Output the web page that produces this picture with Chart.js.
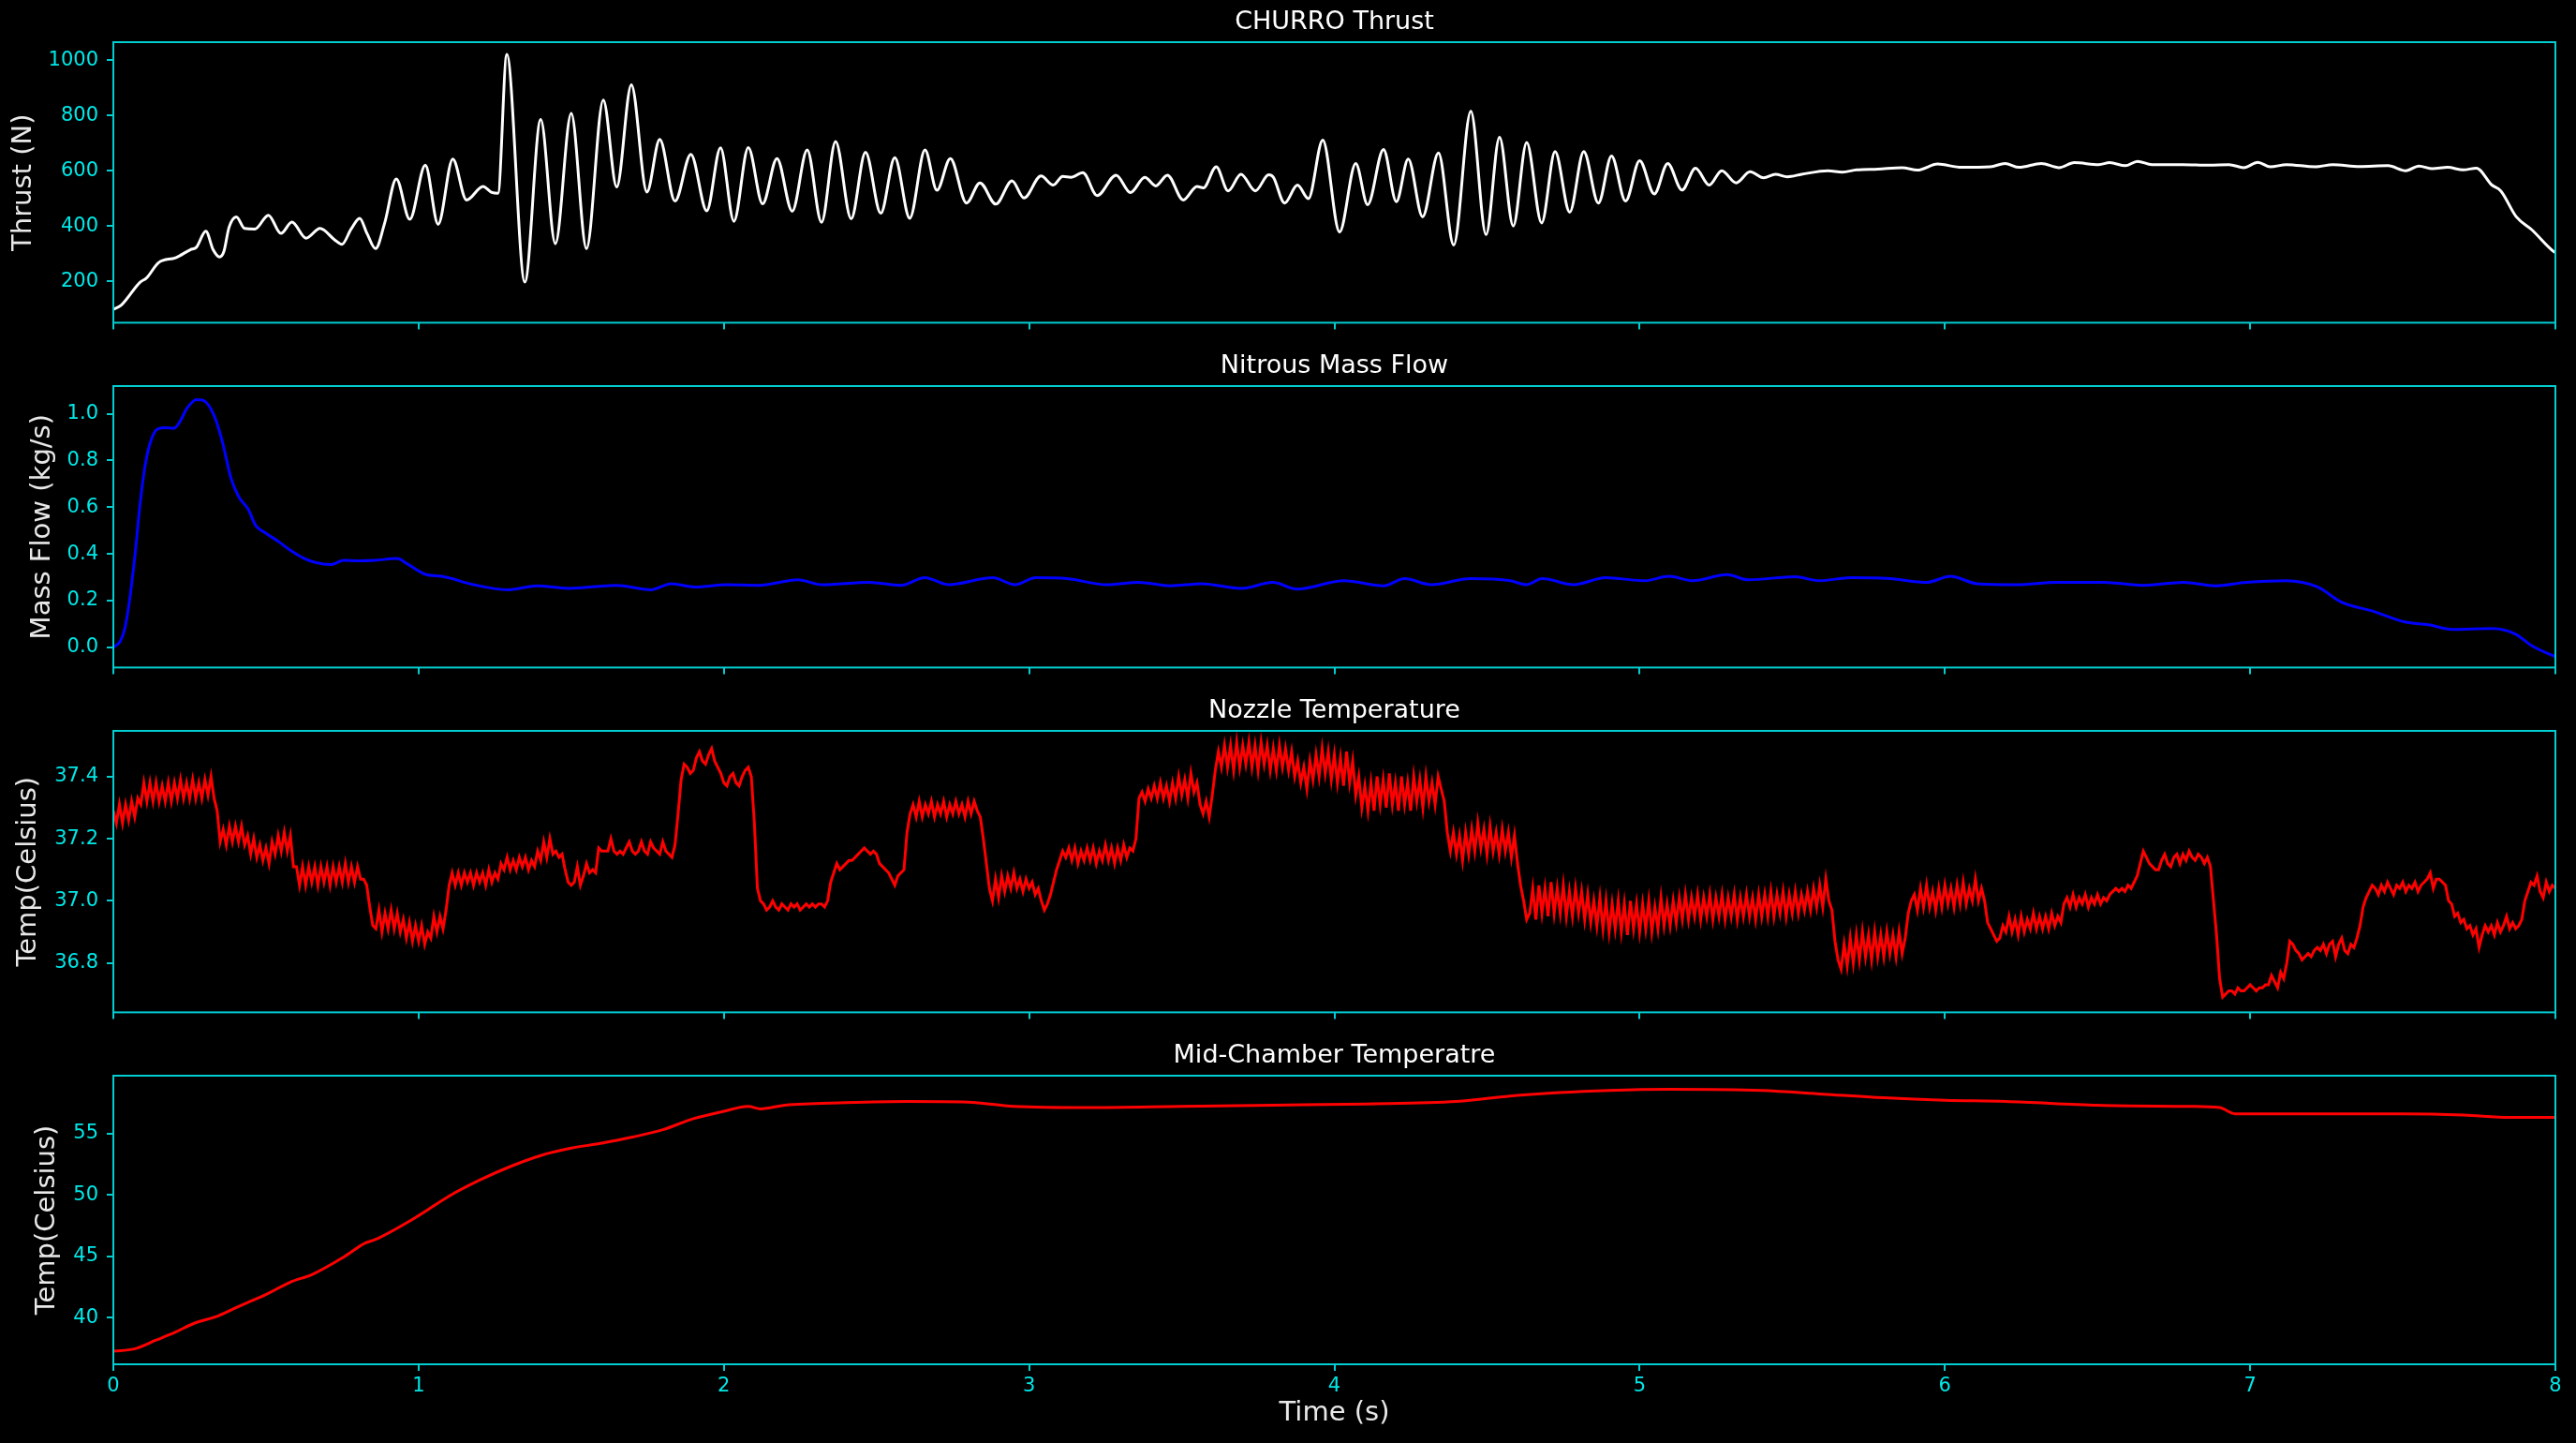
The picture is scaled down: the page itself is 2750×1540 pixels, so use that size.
<!DOCTYPE html>
<html><head><meta charset="utf-8">
<script src="https://cdn.jsdelivr.net/npm/chart.js@4.4.1/dist/chart.umd.min.js"></script>
<style>
html,body{margin:0;padding:0;background:#000;width:2750px;height:1540px;overflow:hidden}
canvas{position:absolute;left:0}
</style></head><body>
<canvas id="c1" width="2750" height="357" style="top:9px"></canvas>
<canvas id="c2" width="2750" height="358" style="top:376px"></canvas>
<canvas id="c3" width="2750" height="358" style="top:744px"></canvas>
<canvas id="c4" width="2750" height="428" style="top:1112px"></canvas>
<script>
// ---------- DATA ----------
const xTicks = [0,1,2,3,4,5,6,7,8];
const xTickLabels = ['0','1','2','3','4','5','6','7','8'];

const thrustTicks = [200,400,600,800,1000];
const thrustTickLabels = ['200','400','600','800','1000'];
const massTicks = [0,0.2,0.4,0.6,0.8,1.0];
const massTickLabels = ['0.0','0.2','0.4','0.6','0.8','1.0'];
const nozzleTicks = [36.8,37.0,37.2,37.4];
const nozzleTickLabels = ['36.8','37.0','37.2','37.4'];
const chamberTicks = [40,45,50,55];
const chamberTickLabels = ['40','45','50','55'];

const thrustT = [0,0.026,0.088,0.108,0.149,0.204,0.252,0.272,0.303,0.327,0.348,0.362,0.379,0.403,0.430,0.464,0.508,0.549,0.585,0.631,0.677,0.725,0.749,0.779,0.807,0.831,0.859,0.889,0.927,0.971,1.022,1.064,1.112,1.157,1.211,1.240,1.260,1.289,1.348,1.400,1.448,1.500,1.550,1.605,1.649,1.697,1.748,1.790,
1.840,1.892,1.944,1.989,2.033,2.080,2.127,2.174,2.224,2.273,2.320,2.366,2.417,2.464,2.514,2.560,2.609,2.659,2.698,2.742,2.795,2.839,2.891,2.944,2.983,3.039,3.079,3.110,3.137,3.176,3.223,3.285,3.332,3.379,3.415,3.453,3.505,3.550,3.571,3.613,3.652,3.694,3.741,3.785,3.800,3.837,3.879,3.915,3.962,4.017,4.070,4.109,4.161,4.203,4.242,4.289,4.341,4.391,4.447,4.497,4.541,4.586,4.630,4.679,4.723,4.771,4.817,4.865,4.908,4.954,5.000,5.048,5.092,5.139,5.183,5.228,5.269,5.316,5.362,5.406,5.445,5.484,5.531,5.617,5.664,5.711,5.781,5.860,5.910,5.976,6.055,6.149,6.197,6.243,6.316,6.374,6.424,6.504,6.540,6.591,6.631,6.678,6.779,6.866,6.931,6.979,7.025,7.066,7.119,7.213,7.271,7.358,7.452,7.510,7.553,7.597,7.647,7.698,7.741,7.792,7.821,7.872,7.922,7.995,8.0];
const thrustV = [99,115,198,212,269,286,315,324,382,315,289,308,396,434,392,390,440,374,415,357,392,351,335,390,429,374,319,412,571,425,621,407,643,495,544,522,519,1022,198,786,337,808,319,857,542,912,524,714,
491,660,456,684,418,685,481,645,454,676,414,707,427,668,447,648,429,676,530,645,484,557,480,564,502,582,549,580,577,594,511,585,522,577,546,585,495,544,539,615,528,588,528,586,577,484,549,500,712,379,627,478,678,489,643,434,665,332,816,370,722,401,703,412,670,451,670,484,654,491,637,517,627,531,610,549,601,557,597,575,588,579,588,601,596,604,607,612,603,625,613,615,627,613,627,612,630,623,630,619,635,623,623,621,623,612,631,615,623,615,623,616,619,601,618,608,613,604,610,549,528,434,388,308,305];

const massT = [0,0.022,0.038,0.053,0.071,0.089,0.107,0.125,0.145,0.171,0.199,0.217,0.242,0.273,0.294,0.329,0.355,0.386,0.411,0.442,0.467,0.498,0.544,0.580,0.621,0.662,0.713,0.754,0.805,0.856,0.930,0.960,1.025,1.076,1.180,1.294,1.388,1.491,1.647,1.761,1.828,1.906,2.010,2.113,2.243,2.321,2.476,2.580,2.658,2.736,2.881,2.954,3.021,3.125,3.254,3.358,3.462,3.566,3.695,3.799,3.877,4.032,4.162,4.230,4.317,4.447,4.577,4.629,4.681,4.784,4.888,5.018,5.096,5.173,5.287,5.355,5.510,5.588,5.692,5.821,5.941,6.018,6.106,6.236,6.366,6.521,6.651,6.781,6.885,6.988,7.118,7.221,7.299,7.403,7.507,7.585,7.662,7.792,7.870,7.922,7.990,8.0];
const massV = [0.0,0.024,0.082,0.20,0.396,0.631,0.80,0.892,0.935,0.94,0.938,0.964,1.025,1.061,1.058,0.996,0.892,0.722,0.644,0.591,0.52,0.49,0.45,0.415,0.383,0.363,0.354,0.372,0.37,0.372,0.38,0.36,0.311,0.304,0.268,0.246,0.263,0.252,0.265,0.246,0.272,0.258,0.268,0.265,0.289,0.268,0.278,0.265,0.298,0.268,0.298,0.268,0.298,0.294,0.268,0.278,0.263,0.272,0.252,0.278,0.249,0.285,0.263,0.294,0.268,0.294,0.285,0.268,0.294,0.268,0.298,0.285,0.304,0.285,0.311,0.289,0.302,0.285,0.298,0.294,0.278,0.304,0.272,0.268,0.278,0.278,0.265,0.278,0.263,0.278,0.285,0.258,0.193,0.154,0.108,0.096,0.076,0.08,0.056,0.007,-0.035,-0.04];

const nozzleStep = 0.01; // sample spacing of the nozzle log (s)
const nozzleV = [
37.29,37.25,37.31,37.25,37.31,37.26,37.32,37.27,37.33,37.31,37.38,37.32,37.38,37.32,37.38,37.32,37.37,37.32,37.38,37.32,
37.38,37.33,37.39,37.33,37.38,37.33,37.39,37.33,37.38,37.33,37.39,37.34,37.40,37.33,37.29,37.19,37.23,37.18,37.24,37.19,
37.24,37.19,37.24,37.18,37.21,37.15,37.20,37.14,37.18,37.13,37.17,37.12,37.19,37.15,37.21,37.16,37.22,37.16,37.21,37.11,
37.11,37.05,37.11,37.05,37.11,37.06,37.11,37.05,37.11,37.06,37.11,37.05,37.11,37.06,37.11,37.06,37.12,37.06,37.11,37.06,
37.11,37.07,37.07,37.05,36.98,36.92,36.91,36.97,36.90,36.96,36.91,36.97,36.91,36.96,36.90,36.94,36.88,36.93,36.87,36.92,
36.87,36.92,36.86,36.90,36.88,36.95,36.90,36.95,36.91,36.97,37.05,37.09,37.05,37.09,37.05,37.09,37.06,37.09,37.05,37.09,
37.06,37.09,37.05,37.10,37.06,37.09,37.07,37.12,37.10,37.14,37.10,37.13,37.10,37.14,37.11,37.14,37.10,37.13,37.11,37.16,
37.13,37.19,37.14,37.20,37.15,37.16,37.14,37.15,37.10,37.06,37.05,37.06,37.11,37.05,37.08,37.12,37.09,37.10,37.09,37.17,
37.16,37.16,37.16,37.20,37.16,37.15,37.16,37.15,37.17,37.19,37.16,37.15,37.16,37.19,37.16,37.15,37.19,37.17,37.16,37.15,
37.19,37.16,37.15,37.14,37.18,37.28,37.39,37.44,37.43,37.41,37.42,37.46,37.48,37.45,37.44,37.47,37.49,37.45,37.43,37.41,
37.38,37.37,37.40,37.41,37.38,37.37,37.40,37.42,37.43,37.40,37.25,37.04,37.00,36.99,36.97,36.98,37.00,36.98,36.97,36.99,
36.98,36.97,36.99,36.98,36.99,36.97,36.98,36.99,36.98,36.99,36.98,36.99,36.99,36.98,37.00,37.06,37.09,37.12,37.10,37.11,
37.12,37.13,37.13,37.14,37.15,37.16,37.17,37.16,37.15,37.16,37.15,37.12,37.11,37.10,37.09,37.07,37.05,37.08,37.09,37.10,
37.22,37.28,37.31,37.27,37.32,37.27,37.31,37.28,37.32,37.27,37.31,37.28,37.32,37.27,37.31,37.28,37.32,37.28,37.31,37.27,
37.32,37.28,37.32,37.29,37.27,37.20,37.12,37.04,37.00,37.07,37.01,37.08,37.03,37.08,37.04,37.09,37.04,37.07,37.03,37.07,
37.04,37.06,37.02,37.04,37.00,36.97,36.99,37.02,37.06,37.10,37.13,37.16,37.14,37.17,37.13,37.17,37.12,37.16,37.13,37.17,
37.13,37.17,37.12,37.16,37.13,37.18,37.13,37.17,37.12,37.17,37.13,37.18,37.14,37.17,37.16,37.20,37.33,37.35,37.32,37.36,
37.33,37.37,37.33,37.38,37.33,37.37,37.32,37.38,37.33,37.40,37.34,37.39,37.33,37.41,37.35,37.38,37.31,37.28,37.32,37.27,
37.34,37.42,37.48,37.43,37.50,37.43,37.50,37.42,37.51,37.43,37.50,37.44,37.51,37.43,37.50,37.42,37.51,37.44,37.50,37.42,
37.49,37.42,37.50,37.43,37.49,37.42,37.48,37.40,37.45,37.38,37.43,37.36,37.45,37.39,37.47,37.40,37.49,37.41,37.48,37.39,
37.47,37.38,37.46,37.37,37.48,37.38,37.45,37.34,37.40,37.30,37.37,37.29,37.38,37.29,37.40,37.31,37.39,37.30,37.41,37.31,
37.38,37.29,37.40,37.31,37.38,37.29,37.40,37.32,37.39,37.30,37.40,37.32,37.38,37.31,37.40,37.36,37.32,37.22,37.16,37.22,
37.15,37.21,37.13,37.22,37.15,37.23,37.16,37.25,37.17,37.23,37.15,37.24,37.16,37.22,37.15,37.23,37.16,37.22,37.14,37.21,
37.12,37.05,37.00,36.94,36.96,37.04,36.94,37.05,36.96,37.04,36.95,37.06,36.96,37.04,36.96,37.05,36.95,37.03,36.95,37.04,
36.96,37.03,36.94,37.02,36.93,37.00,36.92,37.01,36.91,37.00,36.90,36.99,36.91,37.00,36.90,36.99,36.89,37.00,36.91,36.99,
36.90,36.99,36.91,37.00,36.90,36.98,36.91,37.01,36.92,36.99,36.92,37.00,36.93,37.01,36.94,37.02,36.94,37.01,36.95,37.02,
36.94,37.01,36.95,37.02,36.94,37.01,36.95,37.02,36.94,37.01,36.95,37.02,36.94,37.01,36.95,37.02,36.95,37.01,36.94,37.02,
36.95,37.02,36.95,37.03,36.95,37.02,36.96,37.03,36.95,37.02,36.96,37.03,36.96,37.02,36.97,37.03,36.97,37.04,36.98,37.05,
36.98,37.07,37.00,36.97,36.87,36.81,36.78,36.86,36.79,36.88,36.80,36.89,36.81,36.90,36.82,36.89,36.81,36.90,36.82,36.89,
36.82,36.90,36.83,36.89,36.82,36.90,36.83,36.88,36.96,37.00,37.02,36.97,37.04,36.98,37.05,36.98,37.03,36.97,37.04,36.98,
37.05,36.99,37.04,36.98,37.05,36.99,37.06,36.99,37.04,37.00,37.07,37.00,37.04,37.00,36.93,36.91,36.89,36.87,36.88,36.92,
36.90,36.95,36.90,36.94,36.89,36.95,36.90,36.94,36.91,36.96,36.91,36.95,36.91,36.95,36.91,36.96,36.92,36.95,36.93,36.99,
37.01,36.98,37.02,36.98,37.01,36.99,37.02,36.98,37.01,36.99,37.02,36.99,37.01,37.00,37.02,37.03,37.04,37.03,37.04,37.03,
37.05,37.04,37.06,37.08,37.12,37.16,37.14,37.12,37.11,37.10,37.10,37.13,37.15,37.12,37.11,37.14,37.15,37.12,37.15,37.13,
37.16,37.14,37.13,37.15,37.14,37.12,37.14,37.11,37.00,36.89,36.75,36.69,36.70,36.71,36.71,36.70,36.72,36.71,36.71,36.72,
36.73,36.72,36.71,36.72,36.72,36.73,36.73,36.76,36.74,36.72,36.77,36.75,36.80,36.87,36.86,36.84,36.83,36.81,36.82,36.83,
36.82,36.84,36.85,36.84,36.86,36.83,36.86,36.87,36.82,36.86,36.88,36.84,36.83,36.86,36.85,36.88,36.92,36.98,37.01,37.03,
37.05,37.04,37.02,37.05,37.03,37.06,37.04,37.02,37.05,37.04,37.06,37.03,37.05,37.04,37.06,37.03,37.05,37.06,37.07,37.09,
37.04,37.07,37.07,37.06,37.05,37.00,36.99,36.95,36.96,36.93,36.94,36.91,36.92,36.89,36.91,36.85,36.89,36.92,36.90,36.92,
36.89,36.93,36.90,36.92,36.95,36.91,36.93,36.91,36.92,36.94,37.00,37.03,37.06,37.05,37.08,37.03,37.01,37.06,37.03,37.05,
37.04];
const nozzleT = nozzleV.map((_, i) => +(i * nozzleStep).toFixed(2));

const chamberT = [0,0.068,0.140,0.202,0.263,0.345,0.427,0.498,0.580,0.652,0.754,0.825,0.856,1.0,1.1,1.2,1.3,1.4,1.5,1.6,1.7,1.8,1.9,2.0,2.08,2.12,2.2,2.4,2.6,2.8,2.95,3.2,3.5,3.8,4.1,4.4,4.6,4.9,5.1,5.4,5.6,5.8,6.0,6.2,6.5,6.8,6.9,6.95,7.2,7.5,7.7,7.85,8.0];
const chamberV = [37.27,37.45,38.17,38.80,39.52,40.16,41.10,41.86,42.89,43.52,44.92,46.07,46.33,48.3,49.9,51.2,52.3,53.2,53.8,54.2,54.7,55.3,56.2,56.8,57.2,57.0,57.3,57.5,57.6,57.55,57.2,57.1,57.2,57.3,57.4,57.6,58.1,58.5,58.6,58.5,58.2,57.9,57.7,57.6,57.3,57.2,57.1,56.6,56.6,56.6,56.5,56.3,56.3];

// ---------- STYLE ----------
const FONT = "'DejaVu Sans', 'Noto Sans', sans-serif";
Chart.defaults.font.family = FONT;
const SPINE = '#00CED1';
const TICKTXT = '#00e8e8';

const spines = {
  id: 'spines',
  afterDraw(chart) {
    const {ctx, chartArea: a} = chart;
    ctx.save();
    ctx.strokeStyle = SPINE;
    ctx.lineWidth = 2;
    ctx.strokeRect(a.left, a.top, a.right - a.left, a.bottom - a.top);
    ctx.restore();
  }
};

function makeChart(cfg) {
  const data = cfg.t.map((t, i) => ({x: t, y: cfg.v[i]}));
  return new Chart(document.getElementById(cfg.id), {
    type: 'line',
    data: { datasets: [{
      data,
      borderColor: cfg.color,
      borderWidth: 3,
      pointRadius: 0,
      fill: false,
      tension: cfg.smooth ? 0.4 : 0,
      cubicInterpolationMode: cfg.smooth ? 'monotone' : 'default'
    }]},
    options: {
      responsive: false,
      animation: false,
      devicePixelRatio: 1,
      events: [],
      layout: { padding: { top: 0, left: cfg.padLeft, right: 22, bottom: cfg.padBottom } },
      plugins: {
        legend: { display: false },
        tooltip: { enabled: false },
        title: {
          display: true, text: cfg.title, color: '#ffffff', fullSize: false,
          font: { size: 27, weight: 'normal', family: FONT, lineHeight: 30/27 },
          padding: { top: 0, bottom: 6 }
        }
      },
      scales: {
        x: {
          type: 'linear', min: 0, max: 8,
          afterBuildTicks: s => { s.ticks = xTicks.map(v => ({value: v})); },
          afterFit: s => { s.height = cfg.xHeight; },
          grid: { display: true, drawOnChartArea: false, drawTicks: true, tickLength: 7, color: SPINE, lineWidth: 2 },
          border: { display: false },
          ticks: {
            display: cfg.xLabels, color: TICKTXT, padding: 4,
            font: { size: 21, family: FONT }, maxRotation: 0, autoSkip: false,
            callback: (v, i) => xTickLabels[i]
          },
          title: {
            display: cfg.xLabels, text: 'Time (s)', color: '#e8e8e8',
            font: { size: 29, family: FONT, lineHeight: 1.1 }, padding: 0
          }
        },
        y: {
          type: 'linear', min: cfg.min, max: cfg.max,
          afterBuildTicks: s => { s.ticks = cfg.ticks.map(v => ({value: v})); },
          afterFit: s => { s.width = 121 - cfg.padLeft; },
          grid: { display: true, drawOnChartArea: false, drawTicks: true, tickLength: 7, color: SPINE, lineWidth: 2 },
          border: { display: false },
          ticks: {
            color: TICKTXT, padding: 9, autoSkip: false,
            font: { size: 21, family: FONT },
            callback: (v, i) => cfg.labels[i]
          },
          title: {
            display: true, text: cfg.ylabel, color: '#e8e8e8',
            font: { size: 29, family: FONT, lineHeight: 1.1 }, padding: 0
          }
        }
      }
    },
    plugins: [spines]
  });
}

makeChart({id:'c1', title:'CHURRO Thrust', ylabel:'Thrust (N)', t:thrustT, v:thrustV, color:'#ffffff',
  min:51, max:1066, ticks:thrustTicks, labels:thrustTickLabels, padLeft:10, padBottom:4, xHeight:10, xLabels:false, smooth:true});
makeChart({id:'c2', title:'Nitrous Mass Flow', ylabel:'Mass Flow (kg/s)', t:massT, v:massV, color:'#0000ff',
  min:-0.087, max:1.119, ticks:massTicks, labels:massTickLabels, padLeft:30, padBottom:4, xHeight:10, xLabels:false, smooth:true});
makeChart({id:'c3', title:'Nozzle Temperature', ylabel:'Temp(Celsius)', t:nozzleT, v:nozzleV, color:'#ff0000',
  min:36.641, max:37.547, ticks:nozzleTicks, labels:nozzleTickLabels, padLeft:15, padBottom:4, xHeight:10, xLabels:false, smooth:false});
makeChart({id:'c4', title:'Mid-Chamber Temperatre', ylabel:'Temp(Celsius)', t:chamberT, v:chamberV, color:'#ff0000',
  min:36.2, max:59.7, ticks:chamberTicks, labels:chamberTickLabels, padLeft:35, padBottom:16, xHeight:68, xLabels:true, smooth:true});
</script>
</body></html>
